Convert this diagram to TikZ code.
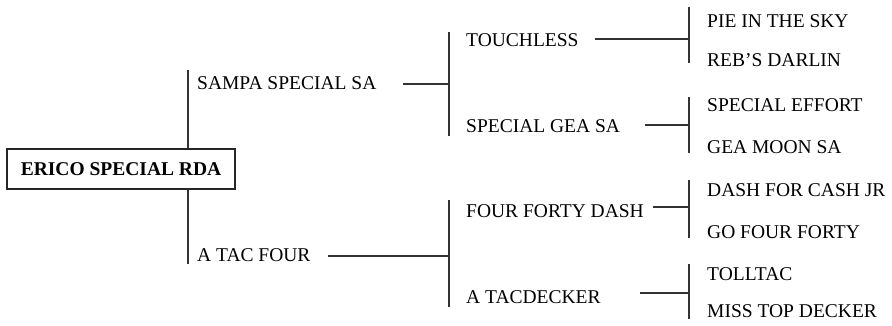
\documentclass[tikz,border=0pt]{standalone}
\usepackage{fontspec}
\setmainfont{Liberation Serif}
\begin{document}
\begin{tikzpicture}[x=1pt,y=-1pt,
  horse/.style={anchor=west,inner sep=0pt,text height=13pt,text depth=0pt,font=\fontsize{19.5}{22}\selectfont},
  link/.style={line width=1.3pt,draw=black!80},
  rootbox/.style={draw=black!85,line width=1.4pt,fill=white,minimum width=228pt,minimum height=40pt,inner sep=0pt,font=\fontsize{19.5}{22}\selectfont\bfseries}]
\useasboundingbox (0,0) rectangle (892,325);
% bracket coordinates
\coordinate (b1t) at (188,70);  \coordinate (b1b) at (188,264);
\coordinate (b2t) at (449,32);  \coordinate (b2b) at (449,136);
\coordinate (b3t) at (449,200); \coordinate (b3b) at (449,307);
\coordinate (b4t) at (689,7);   \coordinate (b4b) at (689,63);
\coordinate (b5t) at (689,97);  \coordinate (b5b) at (689,153);
\coordinate (b6t) at (689,180); \coordinate (b6b) at (689,238);
\coordinate (b7t) at (689,264); \coordinate (b7b) at (689,319);
\draw[link] (b1t) -- (b1b);
\draw[link] (b2t) -- (b2b);
\draw[link] (b3t) -- (b3b);
\draw[link] (b4t) -- (b4b);
\draw[link] (b5t) -- (b5b);
\draw[link] (b6t) -- (b6b);
\draw[link] (b7t) -- (b7b);
% root
\node[rootbox] (root) at (121,169) {ERICO SPECIAL RDA};
% generation 1
\node[horse] (sampa) at (197,83) {SAMPA SPECIAL SA};
\node[horse] (atac) at (197,255) {A TAC FOUR};
% generation 2
\node[horse] (touch) at (466,40) {TOUCHLESS};
\node[horse] (gea) at (466,126) {SPECIAL GEA SA};
\node[horse] (ffd) at (466,211) {FOUR FORTY DASH};
\node[horse] (tacd) at (466,297) {A TACDECKER};
% generation 3
\node[horse] (pie) at (707,21) {PIE IN THE SKY};
\node[horse] (reb) at (707,60) {REB'S DARLIN};
\node[horse] (spe) at (707,105) {SPECIAL EFFORT};
\node[horse] (moon) at (707,147) {GEA MOON SA};
\node[horse] (dfc) at (707,190) {DASH FOR CASH JR};
\node[horse] (gff) at (707,232) {GO FOUR FORTY};
\node[horse] (toll) at (707,274) {TOLLTAC};
\node[horse] (miss) at (707,311) {MISS TOP DECKER};
% horizontal connectors
\coordinate (h1) at (403,84);  \draw[link] (h1) -- (h1 -| b2t);
\coordinate (h2) at (328,256); \draw[link] (h2) -- (h2 -| b3t);
\coordinate (h3) at (595,39);  \draw[link] (h3) -- (h3 -| b4t);
\coordinate (h4) at (645,125); \draw[link] (h4) -- (h4 -| b5t);
\coordinate (h5) at (653,207); \draw[link] (h5) -- (h5 -| b6t);
\coordinate (h6) at (640,293); \draw[link] (h6) -- (h6 -| b7t);
\end{tikzpicture}
\end{document}
